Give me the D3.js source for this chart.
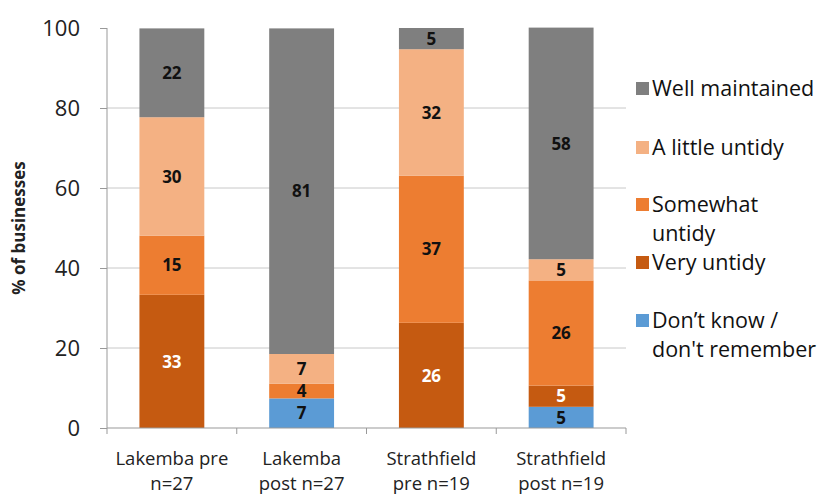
<!DOCTYPE html>
<html>
<head>
<meta charset="utf-8">
<script src="https://cdn.jsdelivr.net/npm/d3@7"></script>
<style>
body { margin: 0; background: #fff; }
text { font-family: "Open Sans", "Liberation Sans", sans-serif; }
</style>
</head>
<body>
<svg></svg>
<script>
// categories (two line labels)
var categories = ["Lakemba pre", "Lakemba post", "Strathfield pre", "Strathfield post"];
var catLines = [["Lakemba pre", "n=27"], ["Lakemba", "post n=27"], ["Strathfield", "pre n=19"], ["Strathfield", "post n=19"]];
// series, bottom to top
var seriesNames = ["Don't know", "Very untidy", "Somewhat untidy", "A little untidy", "Well maintained"];
var dontKnow = [0, 7.4, 0, 5.3];
var veryUntidy = [33.3, 0, 26.3, 5.3];
var somewhatUntidy = [14.8, 3.7, 36.8, 26.3];
var littleUntidy = [29.6, 7.4, 31.6, 5.3];
var wellMaintained = [22.2, 81.4, 5.3, 57.9];
var yTicks = [0, 20, 40, 60, 80, 100];

var colors = ["#5b9bd5", "#c55a11", "#ed7d31", "#f4b183", "#7f7f7f"];
var labelColors = ["#111", "#fff", "#111", "#111", "#111"];
var allSeries = [dontKnow, veryUntidy, somewhatUntidy, littleUntidy, wellMaintained];

var screen = {width: 834, height: 497};
var margins = {top: 28, bottom: 69, left: 107, right: 208};
var width = screen.width - margins.left - margins.right;
var height = screen.height - margins.top - margins.bottom;

var svg = d3.select('svg')
  .attr('width', screen.width)
  .attr('height', screen.height);

var xScale = d3.scaleBand()
  .domain(d3.range(categories.length))
  .range([0, width])
  .paddingInner(0.5)
  .paddingOuter(0.25);

var yScale = d3.scaleLinear()
  .domain([0, 100])
  .range([height, 0]);

var plot = svg.append('g')
  .attr('transform', 'translate(' + margins.left + ',' + margins.top + ')');

// gridlines
plot.selectAll('.grid')
  .data(yTicks.slice(1, 5))
  .enter()
  .append('line')
  .attr('x1', 0)
  .attr('x2', width)
  .attr('y1', function(d) { return yScale(d); })
  .attr('y2', function(d) { return yScale(d); })
  .attr('stroke', '#c8c8c8')
  .attr('stroke-width', 1);

// stack data
var rows = categories.map(function(c, i) {
  var r = {idx: i};
  seriesNames.forEach(function(s, k) { r[s] = allSeries[k][i]; });
  return r;
});
var stacked = d3.stack().keys(seriesNames)(rows);

var layers = plot.selectAll('.layer')
  .data(stacked)
  .enter()
  .append('g')
  .attr('fill', function(d, i) { return colors[i]; });

layers.selectAll('rect')
  .data(function(d) { return d; })
  .enter()
  .append('rect')
  .attr('x', function(d, i) { return xScale(i); })
  .attr('width', xScale.bandwidth())
  .attr('y', function(d) { return yScale(d[1]); })
  .attr('height', function(d) { return yScale(d[0]) - yScale(d[1]); });

// value labels
stacked.forEach(function(layer, k) {
  plot.selectAll('.lab' + k)
    .data(layer.filter(function(d) { return d[1] - d[0] > 0; }))
    .enter()
    .append('text')
    .attr('x', function(d) { return xScale(d.data.idx) + xScale.bandwidth() / 2; })
    .attr('y', function(d) { return yScale((d[0] + d[1]) / 2); })
    .attr('dy', '0.36em')
    .attr('text-anchor', 'middle')
    .attr('font-size', 17)
    .attr('font-weight', 'bold')
    .attr('fill', labelColors[k])
    .text(function(d) { return Math.round(d[1] - d[0]); });
});

// y axis
var yAxis = d3.axisLeft(yScale).tickValues(yTicks).tickSize(7).tickPadding(20);
var yG = plot.append('g').call(yAxis);
yG.select('.domain').attr('stroke', '#999').attr('d', 'M0,' + height + 'V0');
yG.selectAll('.tick line').attr('stroke', '#999');
yG.selectAll('.tick text').attr('font-size', 22).attr('fill', '#222')
  .attr('font-family', '"Open Sans", sans-serif');

// x axis
var xG = plot.append('g').attr('transform', 'translate(0,' + height + ')');
xG.append('line').attr('x1', 0).attr('x2', width).attr('stroke', '#999');
xG.selectAll('.xt')
  .data(d3.range(categories.length + 1))
  .enter()
  .append('line')
  .attr('x1', function(d) { return d * xScale.step(); })
  .attr('x2', function(d) { return d * xScale.step(); })
  .attr('y1', 0).attr('y2', 6)
  .attr('stroke', '#999');
catLines.forEach(function(lines, i) {
  var t = xG.append('text')
    .attr('x', xScale(i) + xScale.bandwidth() / 2)
    .attr('text-anchor', 'middle')
    .attr('font-size', 18.5)
    .attr('fill', '#222');
  lines.forEach(function(l, j) {
    t.append('tspan')
      .attr('x', xScale(i) + xScale.bandwidth() / 2)
      .attr('y', 37 + j * 25)
      .text(l);
  });
});

// y title
svg.append('text')
  .attr('transform', 'translate(25,' + (margins.top + height / 2) + ') rotate(-90)')
  .attr('text-anchor', 'middle')
  .attr('font-size', 17)
  .attr('font-weight', 'bold')
  .attr('fill', '#222')
  .text('% of businesses');

// legend
var legendItems = [
  {k: 4, lines: ["Well maintained"], y: 88},
  {k: 3, lines: ["A little untidy"], y: 147},
  {k: 2, lines: ["Somewhat", "untidy"], y: 204},
  {k: 1, lines: ["Very untidy"], y: 262},
  {k: 0, lines: ["Don\u2019t know /", "don't remember"], y: 320}
];
var legend = svg.append('g');
legendItems.forEach(function(it) {
  legend.append('rect')
    .attr('x', 636).attr('y', it.y - 6)
    .attr('width', 13).attr('height', 13)
    .attr('fill', colors[it.k]);
  var t = legend.append('text')
    .attr('font-size', 21.5)
    .attr('fill', '#111');
  it.lines.forEach(function(l, j) {
    t.append('tspan')
      .attr('x', 652)
      .attr('y', it.y + j * 29)
      .attr('dy', '0.36em')
      .text(l);
  });
});
</script>
</body>
</html>
